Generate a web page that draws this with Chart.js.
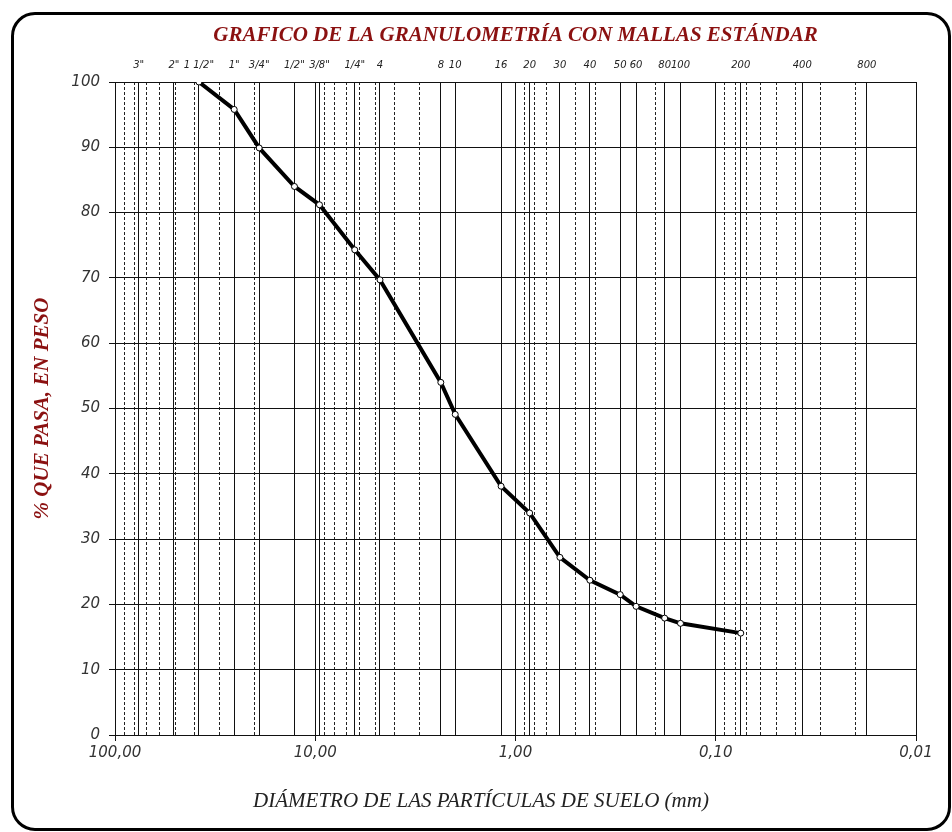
<!DOCTYPE html>
<html><head><meta charset="utf-8">
<script src="https://cdn.jsdelivr.net/npm/chart.js@4.4.1/dist/chart.umd.min.js"></script>
<style>
html,body{margin:0;padding:0;background:#fff;}
#wrap{position:relative;width:952px;height:832px;overflow:hidden;}
#frame{position:absolute;left:11px;top:12px;width:940px;height:819px;box-sizing:border-box;border:3.5px solid #000;border-radius:24px;pointer-events:none;}
canvas{position:absolute;left:0;top:0;}
</style></head><body>
<div id="wrap"><canvas id="c" width="952" height="832"></canvas><div id="frame"></div></div>
<script>
// Sieve names (top axis) and their openings in mm
const sieveLabels = ['3"','2"','1 1/2"','1"','3/4"','1/2"','3/8"','1/4"','4','8','10','16','20','30','40','50','60','80','100','200','400','800'];
const sieveSizes  = [76.2,50.8,38.1,25.4,19.05,12.7,9.525,6.35,4.75,2.36,2.0,1.18,0.85,0.6,0.425,0.3,0.25,0.18,0.15,0.075,0.037,0.0176];
// Test results
const testSizes = [38.1,25.4,19.05,12.7,9.525,6.35,4.75,2.36,2.0,1.18,0.85,0.6,0.425,0.3,0.25,0.18,0.15,0.075];
const passing   = [100,95.8,89.9,84.0,81.2,74.3,69.7,54.0,49.1,38.1,34.0,27.2,23.7,21.5,19.7,17.9,17.1,15.6];
// Axis ticks
const majorTicks  = [100,10,1,0.1,0.01];
const majorLabels = ['100,00','10,00','1,00','0,10','0,01'];
const minorTicks  = [90,80,70,60,50,40,30,20,9,8,7,6,5,4,3,2,0.9,0.8,0.7,0.6,0.5,0.4,0.3,0.2,0.09,0.08,0.07,0.06,0.05,0.04,0.03,0.02];
const yTicks = [0,10,20,30,40,50,60,70,80,90,100];

const points = testSizes.map((s,i)=>({x:s,y:passing[i]}));
const setTicks = arr => (scale => { scale.ticks = arr.map(v=>({value:v})); });
const logBase = {type:'logarithmic', min:0.01, max:100, reverse:true};
const tickFontSm = {family:'DejaVu Sans', size:10, style:'italic'};
const tickFont = {family:'DejaVu Sans', size:15, style:'italic'};

new Chart(document.getElementById('c'), {
  type:'line',
  data:{datasets:[{
    data:points, xAxisID:'x', yAxisID:'y',
    borderColor:'#000', borderWidth:4, tension:0,
    pointRadius:3, pointBackgroundColor:'#fff', pointBorderColor:'#000', pointBorderWidth:1
  }]},
  options:{
    responsive:false, animation:false, devicePixelRatio:1,
    layout:{padding:{left:30,right:20,top:16,bottom:18.4}},
    plugins:{
      legend:{display:false}, tooltip:{enabled:false},
      title:{display:true, fullSize:false, text:'GRAFICO DE LA GRANULOMETRÍA CON MALLAS ESTÁNDAR',
        color:'#8b1111', font:{family:'Liberation Serif', size:21, weight:'bold', style:'italic'},
        padding:{top:7,bottom:4}},
      subtitle:{display:true, position:'bottom', fullSize:true, text:'DIÁMETRO DE LAS PARTÍCULAS DE SUELO (mm)',
        color:'#222', font:{family:'Liberation Serif', size:21, style:'italic'},
        padding:{top:8.4,bottom:0}}
    },
    scales:{
      x:Object.assign({}, logBase, {
        position:'bottom',
        afterBuildTicks:setTicks(majorTicks),
        afterFit:s=>{s.height=45;},
        ticks:{autoSkip:false, maxRotation:0, minRotation:0, padding:3, color:'#333', font:tickFont,
          callback:(v,i)=>majorLabels[i]},
        grid:{color:'#111', lineWidth:1, tickLength:6, tickColor:'#111'},
        border:{color:'#111'}
      }),
      xm:Object.assign({}, logBase, {
        position:'bottom',
        afterBuildTicks:setTicks(minorTicks),
        afterFit:s=>{s.height=0;},
        ticks:{display:false},
        grid:{color:'#222', lineWidth:1, drawTicks:false},
        border:{display:false, dash:[3,2]}
      }),
      xs:Object.assign({}, logBase, {
        position:'top',
        afterBuildTicks:setTicks(sieveSizes),
        afterFit:s=>{s.height=29.8;},
        ticks:{autoSkip:false, maxRotation:0, minRotation:0, padding:11, color:'#222', font:tickFontSm,
          callback:(v,i)=>sieveLabels[i]},
        grid:{color:'#111', lineWidth:1, drawTicks:false},
        border:{display:false}
      }),
      y:{
        type:'linear', position:'left', min:0, max:100,
        afterBuildTicks:setTicks(yTicks),
        afterFit:s=>{s.width=85;},
        ticks:{padding:9, color:'#333', font:tickFont},
        grid:{color:'#111', lineWidth:1, tickLength:6, tickColor:'#111'},
        border:{color:'#111'},
        title:{display:true, text:'% QUE PASA, EN PESO', color:'#8b1111',
          font:{family:'Liberation Serif', size:21, weight:'bold', style:'italic'}, padding:{top:0,bottom:0}}
      },
      yr:{
        type:'linear', position:'right', min:0, max:100,
        afterFit:s=>{s.width=16;},
        ticks:{display:false}, grid:{display:false}, border:{display:false}
      }
    }
  }
});
</script>
</body></html>
